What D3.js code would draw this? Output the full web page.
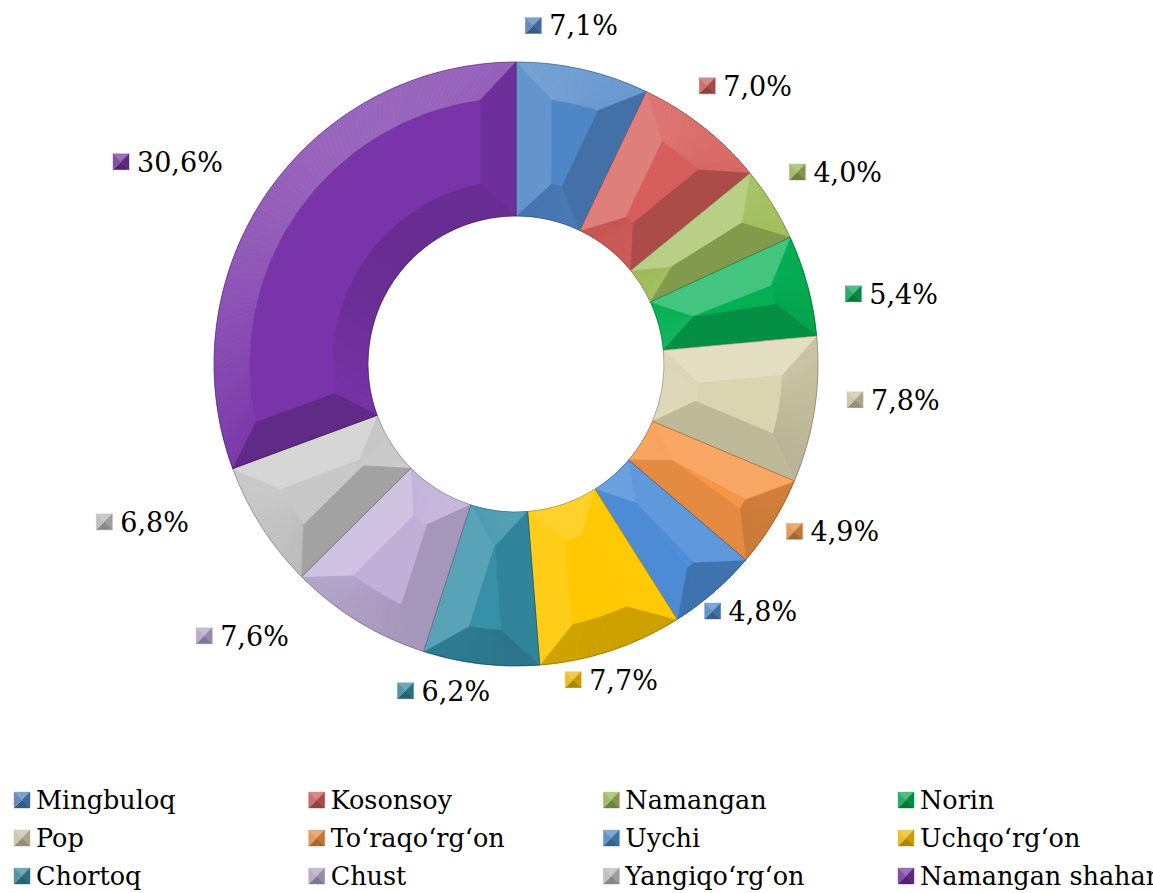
<!DOCTYPE html>
<html>
<head>
<meta charset="utf-8">
<script src="https://cdn.jsdelivr.net/npm/d3@7"></script>
</head>
<body style="margin:0">
<script>
// district shares, %
const categories = ["Mingbuloq", "Kosonsoy", "Namangan", "Norin", "Pop", "To‘raqo‘rg‘on",
  "Uychi", "Uchqo‘rg‘on", "Chortoq", "Chust", "Yangiqo‘rg‘on", "Namangan shahar"];
const shares = [7.1, 7.0, 4.0, 5.4, 7.8, 4.9, 4.8, 7.7, 6.2, 7.6, 6.8, 30.6];
const sliceColors = ["#4f86c6", "#d65f5b", "#a2c05e", "#05b054", "#dad4b0", "#f79646",
  "#4e8ed8", "#ffc800", "#3590a8", "#c0b0d8", "#c8c8c8", "#7834a8"];

// labels were dragged by hand in the original, offsets from the polar anchor
const labelNudge = [[-58, -7], [-19, -11], [-7, -12], [9, 18], [3, -16], [-11, -11],
  [-26, -10], [-50, -7], [-71, -11], [-134, -18], [-125, -25], [-116, -8]];

const width = 1153, height = 893,
  cx = 516, cy = 364,
  outerR = 302, innerR = 148, bevel = 36, labelR = 340,
  fontFamily = '"DejaVu Serif"',
  labelFont = "27px",
  legendFont = "25.5px";

const light = [-0.45, -0.89];
const fmt = d3.formatLocale({ decimal: ",", thousands: " ", grouping: [3], currency: ["", ""] }).format(".1f");

function pt(r, a) { return [r * Math.sin(a), -r * Math.cos(a)]; }

function facetColor(base, nx, ny, k = 1) {
  const s = nx * light[0] + ny * light[1];
  return s > 0 ? d3.interpolateRgb(base, "#fff")(s * 0.25 * k)
               : d3.interpolateRgb(base, "#000")(-s * 0.2 * k);
}

const svg = d3.select("body").append("svg")
  .attr("width", width).attr("height", height);

const pie = d3.pie().sort(null).value(d => d);
const arcs = pie(shares);
const arc = d3.arc().innerRadius(innerR).outerRadius(outerR);

const ring = svg.append("g").attr("transform", `translate(${cx},${cy})`);

function poly(g, pts, fill) {
  g.append("path")
    .attr("d", "M" + pts.map(p => p.join(",")).join("L") + "Z")
    .attr("fill", fill)
    .attr("stroke", fill)
    .attr("stroke-width", 0.6)
    .attr("stroke-linejoin", "round");
}

arcs.forEach((d, i) => {
  const base = sliceColors[i];
  const g = ring.append("g");
  const a0 = d.startAngle, a1 = d.endAngle, mid = (a0 + a1) / 2;
  const rO = outerR - bevel, rI = innerR + bevel;
  let b0o = a0 + bevel / rO, b1o = a1 - bevel / rO;
  if (b0o > b1o) { b0o = mid; b1o = mid; }
  let b0i = a0 + bevel / rI, b1i = a1 - bevel / rI;
  if (b0i > b1i) { b0i = mid; b1i = mid; }

  g.append("path").attr("d", arc(d)).attr("fill", base);

  const n = Math.max(2, Math.ceil((a1 - a0) / 0.02));
  for (let k = 0; k < n; k++) {
    const t0 = a0 + (a1 - a0) * k / n, t1 = a0 + (a1 - a0) * (k + 1) / n;
    const tm = (t0 + t1) / 2;
    // outer bevel
    const u0 = b0o + (b1o - b0o) * k / n, u1 = b0o + (b1o - b0o) * (k + 1) / n;
    poly(g, [pt(outerR, t0), pt(outerR, t1), pt(rO, u1), pt(rO, u0)],
      facetColor(base, Math.sin(tm), -Math.cos(tm)));
    // inner bevel
    const v0 = b0i + (b1i - b0i) * k / n, v1 = b0i + (b1i - b0i) * (k + 1) / n;
    poly(g, [pt(innerR, t0), pt(innerR, t1), pt(rI, v1), pt(rI, v0)],
      facetColor(base, -Math.sin(tm), Math.cos(tm), 0.7));
  }
  // side bevels
  poly(g, [pt(outerR, a0), pt(rO, b0o), pt(rI, b0i), pt(innerR, a0)],
    facetColor(base, -Math.cos(a0), -Math.sin(a0)));
  poly(g, [pt(outerR, a1), pt(rO, b1o), pt(rI, b1i), pt(innerR, a1)],
    facetColor(base, Math.cos(a1), Math.sin(a1)));

  // flat top
  if (b1o > b0o || b1i > b0i) {
    const m = 16, top = [];
    for (let k = 0; k <= m; k++) top.push(pt(rO, b0o + (b1o - b0o) * k / m));
    for (let k = m; k >= 0; k--) top.push(pt(rI, b0i + (b1i - b0i) * k / m));
    poly(g, top, base);
  }

  g.append("path").attr("d", arc(d))
    .attr("fill", "none")
    .attr("stroke", "rgba(0,0,0,0.3)")
    .attr("stroke-width", 0.8);
});

// little pyramid key, as in the legend
function drawKey(g, x, y, s, color) {
  const c = [x + s / 2, y + s / 2],
    tl = [x, y], tr = [x + s, y], br = [x + s, y + s], bl = [x, y + s];
  const faces = [[[tl, tr, c], 0, -1], [[tr, br, c], 1, 0], [[br, bl, c], 0, 1], [[bl, tl, c], -1, 0]];
  faces.forEach(f => {
    g.append("path")
      .attr("d", "M" + f[0].map(p => p.join(",")).join("L") + "Z")
      .attr("fill", facetColor(color, f[1], f[2], 1.4))
      .attr("stroke", facetColor(color, f[1], f[2], 1.4))
      .attr("stroke-width", 0.4);
  });
}

// data labels
const labels = svg.append("g");
arcs.forEach((d, i) => {
  const mid = (d.startAngle + d.endAngle) / 2;
  const p = pt(labelR, mid);
  const mx = cx + p[0] + labelNudge[i][0], my = cy + p[1] + labelNudge[i][1];
  drawKey(labels, mx - 8, my - 8, 16, d3.color(sliceColors[i]).darker(0.3).formatHex());
  labels.append("text")
    .attr("x", mx + 16)
    .attr("y", my + 10)
    .style("font-family", fontFamily)
    .style("font-size", labelFont)
    .text(fmt(d.data) + "%");
});

// legend, 4 columns x 3 rows
const colX = d3.scaleLinear().domain([0, 3]).range([14, 898]);
const rowY = d3.scaleLinear().domain([0, 2]).range([800, 876]);
const legend = svg.append("g");
categories.forEach((name, i) => {
  const x = colX(i % 4), y = rowY(Math.floor(i / 4));
  drawKey(legend, x, y - 8, 16, d3.color(sliceColors[i]).darker(0.3).formatHex());
  legend.append("text")
    .attr("x", x + 22)
    .attr("y", y + 9)
    .style("font-family", fontFamily)
    .style("font-size", legendFont)
    .text(name);
});
</script>
</body>
</html>
